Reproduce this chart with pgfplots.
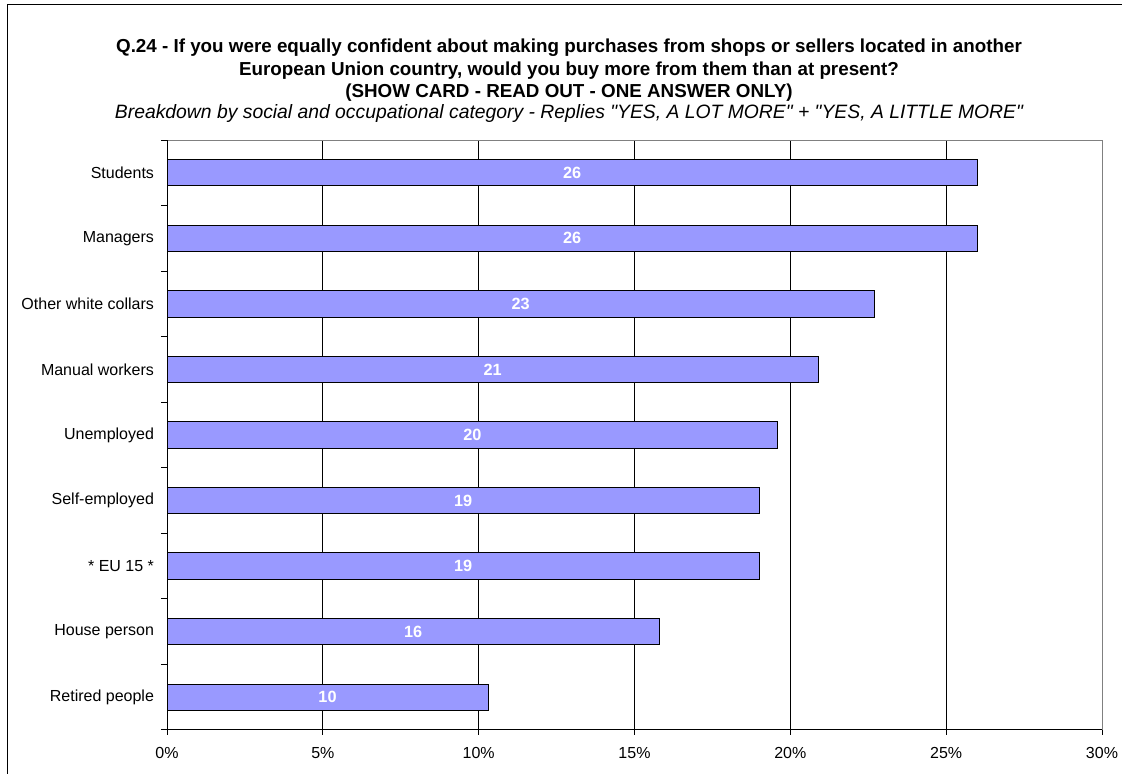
\documentclass[border=0pt]{standalone}
\usepackage{pgfplots}
\usepackage{pgfplotstable}
\pgfplotsset{compat=1.18}
\usepackage{fontspec}
\setmainfont{Liberation Sans}[Ligatures=TeXOff]
\definecolor{barblue}{HTML}{9999FF}
\pgfplotstableread{
pos val lab
0 10.3 10
1 15.8 16
2 19.0 19
3 19.0 19
4 19.6 20
5 20.9 21
6 22.7 23
7 26.0 26
8 26.0 26
}\datatable
\begin{document}
\begin{tikzpicture}[x=1pt,y=1pt]
\useasboundingbox (0,0) rectangle (841.5,580.5);
\draw[line width=0.75pt] (5.25,-2) -- (5.25,576.75) -- (845,576.75);
\node[font=\fontsize{14.1}{16}\selectfont\bfseries, anchor=base] at (426.75,540.75) {Q.24 - If you were equally confident about making purchases from shops or sellers located in another};
\node[font=\fontsize{14.1}{16}\selectfont\bfseries, anchor=base] at (426.75,524.0) {European Union country, would you buy more from them than at present?};
\node[font=\fontsize{14.1}{16}\selectfont\bfseries, anchor=base] at (426.75,507.5) {(SHOW CARD - READ OUT - ONE ANSWER ONLY)};
\node[font=\fontsize{14.5}{16}\selectfont\itshape, anchor=base] at (426.75,491.5) {Breakdown by social and occupational category - Replies "YES, A LOT MORE" + "YES, A LITTLE MORE"};
\begin{axis}[
  name=ax,
  at={(125.25pt,33pt)}, anchor=south west,
  scale only axis, width=701.25pt, height=442.5pt,
  xmin=0, xmax=30, ymin=-0.5, ymax=8.5,
  xtick={0,5,...,30},
  xticklabels={0\%,5\%,10\%,15\%,20\%,25\%,30\%},
  ytick={0,...,8},
  yticklabels={Retired people,House person,* EU 15 *,Self-employed,Unemployed,Manual workers,Other white collars,Managers,Students},
  minor ytick={-0.5,0.5,...,8.5},
  xtick pos=bottom, ytick pos=left,
  tick align=outside,
  major tick length=3.75pt, minor tick length=4.5pt,
  every major y tick/.style={draw=none},
  every minor y tick/.style={black, line width=0.75pt},
  every major x tick/.style={black, line width=0.75pt},
  axis line style={draw=gray, line width=0.75pt},
  xmajorgrids, grid style={black, line width=0.75pt},
  tick label style={font=\fontsize{12}{14}\selectfont},
  yticklabel style={xshift=-2.5pt},
  xticklabel style={yshift=-5.5pt},
  clip=false,
]
\addplot[xbar, bar width=0.4, fill=barblue, draw=black, line width=0.75pt] table[x=val, y=pos] {\datatable};
\addplot[draw=none, mark=none, nodes near coords, point meta=explicit symbolic,
  every node near coord/.style={font=\fontsize{12.2}{14}\selectfont\bfseries, text=white, anchor=center}]
  table[x expr=\thisrow{val}/2, y=pos, meta=lab] {\datatable};
\end{axis}
\draw[black, line width=0.75pt] (ax.north west) -- (ax.south west) -- (ax.south east);
\end{tikzpicture}
\end{document}
